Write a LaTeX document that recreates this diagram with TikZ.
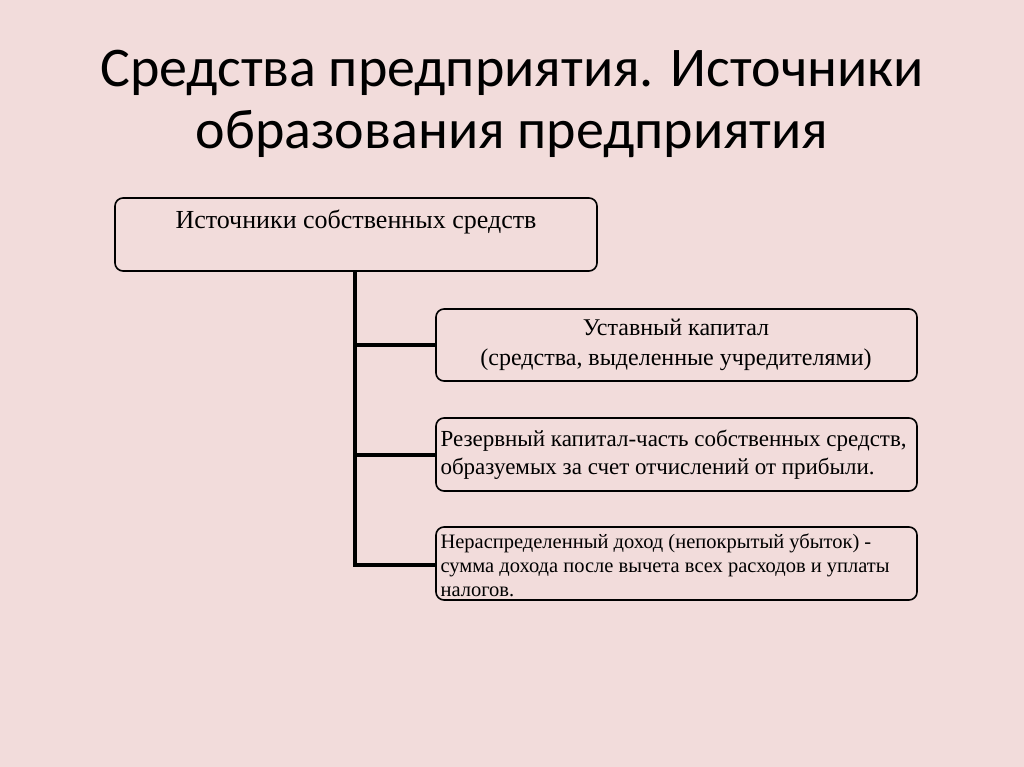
\documentclass[tikz,border=0pt]{standalone}
\usepackage{fontspec}
\setmainfont{Liberation Serif}
\newfontfamily\titlefont{Carlito}
\definecolor{bg}{HTML}{F2DCDB}
\begin{document}
\begin{tikzpicture}[x=1pt,y=-1pt,
  box/.style={draw,line width=1.6pt,rounded corners=8pt,fill=bg},
  conn/.style={line width=3.4pt}]
\fill[bg] (0,0) rectangle (1024,767);
\useasboundingbox (0,0) rectangle (1024,767);
\node[font=\titlefont\fontsize{56}{62}\selectfont,align=center] (title) at (512,104) {Средства предприятия. Источники\\образования предприятия};
\draw[box] (115,198) rectangle (597,271);
\node[font=\fontsize{26}{30}\selectfont] (own) at (356,222) {Источники собственных средств};
\coordinate (ownb) at (355,271);
\draw[box] (436,309) rectangle (917,381);
\node[font=\fontsize{24}{30}\selectfont,align=center] (b1) at (676,345) {Уставный капитал\\(средства, выделенные учредителями)};
\draw[box] (436,418) rectangle (917,491);
\node[font=\fontsize{23}{28}\selectfont,align=left,anchor=west] (b2) at (437,455) {Резервный капитал-часть собственных средств,\\образуемых за счет отчислений от прибыли.};
\draw[box] (436,527) rectangle (917,600);
\node[font=\fontsize{20.5}{24}\selectfont,align=left,anchor=west] (b3) at (437,565) {Нераспределенный доход (непокрытый убыток) -\\сумма дохода после вычета всех расходов и уплаты\\налогов.};
\coordinate (j1) at (355,345);
\coordinate (j2) at (355,455);
\coordinate (j3) at (355,565);
\coordinate (e1) at (436,345);
\coordinate (e2) at (436,455);
\coordinate (e3) at (436,565);
\draw[conn] (ownb) -- (j3) -- (e3);
\draw[conn] (j1) -- (e1);
\draw[conn] (j2) -- (e2);
\end{tikzpicture}
\end{document}
